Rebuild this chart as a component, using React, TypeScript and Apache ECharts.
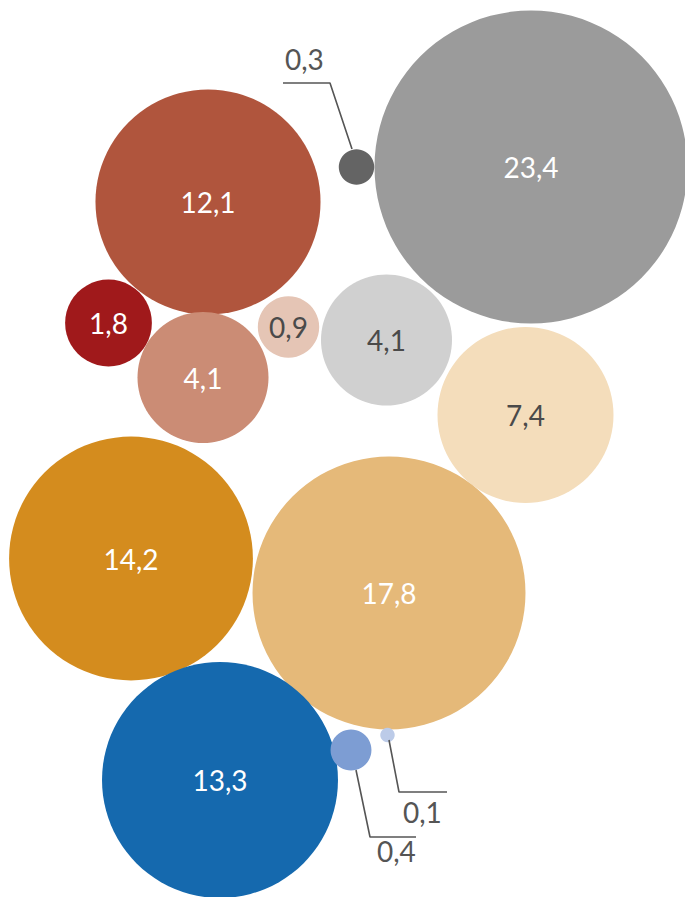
import React, { useEffect, useRef } from "react";
import * as echarts from "echarts";

// Bubble values (area proportional to value). The smallest bubble's area reads ~0.05 (shown rounded as 0,1).
const values = [23.4, 0.3, 12.1, 1.8, 4.1, 0.9, 4.1, 7.4, 14.2, 17.8, 13.3, 0.4, 0.05];
// Packed-layout centres, in chart units (x right, y down)
const centerX = [531, 356.5, 208, 108.5, 203, 288.5, 386.5, 525.5, 131, 389, 220, 351, 387.5];
const centerY = [167, 167, 202, 323, 377.5, 327, 340, 415, 558.5, 593, 780, 750, 735];
const bubbleColors = [
  "#9b9b9b", "#646464", "#b0553d", "#a0191b", "#cb8c75", "#e5c5b5", "#d0d0d0",
  "#f4ddbb", "#d48c1e", "#e5b979", "#1569ae", "#7d9dd3", "#bccbe8",
];
const darkLabel = [false, false, false, false, false, true, true, true, false, false, false, false, false];
const insideLabel = [true, false, true, true, true, true, true, true, true, true, true, false, false];

// Leader lines for the small bubbles (index of bubble, polyline points, label anchor)
const leaderBubble = [1, 11, 12];
const leaderPoints = [
  [[283, 83], [330, 83], [352, 149]],
  [[356, 770], [370, 837], [416, 837]],
  [[389, 740], [399, 792], [447, 792]],
];
const leaderLabelAnchor = [[285, 59], [377, 851], [403, 812]];

const fmt = (v: number) => (Math.round(v * 10) / 10).toFixed(1).replace(".", ",");

const K = 32.35; // px per sqrt(value)
const FONT = "Lato, 'Open Sans', sans-serif";

export default function App() {
  const ref = useRef<HTMLDivElement>(null);
  useEffect(() => {
    if (!ref.current) return;
    const chart = echarts.init(ref.current, undefined, { renderer: "svg" });
    const bubbleData = values.map((v, i) => ({
      value: [centerX[i], centerY[i], v],
      symbolSize: 2 * K * Math.sqrt(v),
      itemStyle: { color: bubbleColors[i], opacity: 1 },
      label: {
        show: insideLabel[i],
        position: "inside",
        formatter: fmt(v),
        color: darkLabel[i] ? "#4a4a4a" : "#ffffff",
        fontSize: 28,
        fontFamily: FONT,
        opacity: 1,
      },
    }));
    const leaderSeries = leaderPoints.map((pts) => ({
      type: "line",
      data: pts,
      symbol: "none",
      silent: true,
      lineStyle: { color: "#555555", width: 1.6, opacity: 1 },
      z: 3,
    }));
    const leaderLabels = {
      type: "scatter",
      symbolSize: 0,
      silent: true,
      itemStyle: { opacity: 1 },
      data: leaderLabelAnchor.map((p, i) => ({
        value: p,
        label: {
          show: true,
          position: "right",
          distance: 0,
          formatter: fmt(values[leaderBubble[i]]),
          color: "#555555",
          fontSize: 28,
          fontFamily: FONT,
          opacity: 1,
        },
      })),
      z: 4,
    };
    chart.setOption({
      animation: false,
      grid: { left: 0, right: 0, top: 0, bottom: 0 },
      xAxis: { type: "value", min: 0, max: 685, show: false },
      yAxis: { type: "value", min: 0, max: 897, inverse: true, show: false },
      series: [
        { type: "scatter", symbol: "circle", data: bubbleData, silent: true, z: 2, itemStyle: { opacity: 1 } },
        ...leaderSeries,
        leaderLabels,
      ],
    });
    return () => chart.dispose();
  }, []);
  return (
    <div
      ref={ref}
      style={{ position: "fixed", left: 0, top: 0, width: 685, height: 897, background: "#ffffff" }}
    />
  );
}
